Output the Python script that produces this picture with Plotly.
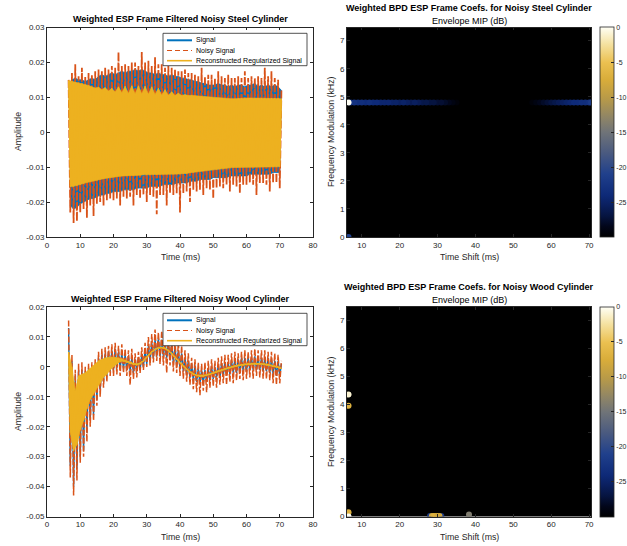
import numpy as np
import plotly.graph_objects as go

W, H = 627, 546

# ---------------- data (amplitudes in units of 1e-3) ----------------
# oscillation peaks sampled at t_peak, troughs at t_trough (ms)
t_peak = np.arange(6.5, 71.0, 1.0)      # 65 samples
t_trough = np.arange(7.0, 70.5, 1.0)    # 64 samples

steel_sig_up = [14, 15, 15.5, 15, 15, 14.5, 15, 15.5, 15, 16, 16.5, 16, 16.5, 17, 16.5, 17,
                17.5, 17, 17.5, 17.5, 18, 17.5, 18, 17.5, 17, 17, 16.5, 17, 16.5, 16.5, 16, 16.5,
                16, 16, 15.5, 15.5, 15, 15, 14.5, 14.5, 14, 14, 13.5, 13.5, 13.5, 14, 13.5, 13.5,
                13, 13.5, 13, 13.5, 13.5, 13, 13.5, 13.5, 14, 13, 13.5, 13, 13.5, 13, 13.5, 13, 12]
steel_sig_lo = [-21, -22, -21.5, -20.5, -20, -19.5, -19, -19, -18.5, -18, -18, -17.5, -17.5, -17,
                -17, -17, -16.5, -16.5, -16.5, -16.5, -16, -16, -16, -16, -15.5, -15.5, -15.5, -15.5,
                -15, -15, -15, -15, -14.5, -14.5, -14.5, -14.5, -14, -14, -14, -13.5, -13.5, -13.5,
                -13.5, -13, -13, -13, -13, -13, -12.5, -12.5, -12.5, -12.5, -12.5, -12.5, -12, -12,
                -12, -12, -12, -12, -12, -11.5, -11.5, -11.5]
steel_noisy_up = [15, 17, 19.5, 16, 18.5, 16, 17, 16.5, 17.5, 18, 17.5, 18.5, 18, 19, 18.5, 23,
                  19, 19.5, 19, 20, 20, 19, 23, 20, 20.5, 19, 21.5, 19.5, 19.5, 18.5, 19, 18.5,
                  18, 17.5, 17.5, 18, 17, 17, 16.5, 16, 18.5, 16, 16.5, 16.5, 15.5, 17.5, 16, 15.5,
                  16.5, 15.5, 15.5, 16, 15.5, 17.5, 15.5, 16, 15.5, 16, 15.5, 18.5, 16, 17.5, 15.5, 15, 12]
steel_noisy_lo = [-23, -26, -25.5, -23, -22, -24.5, -21, -24, -20.5, -20, -21, -19.5, -19, -19.5,
                  -19, -21, -18.5, -19, -18.5, -21, -18, -19, -18, -20, -18, -18.5, -23.5, -18,
                  -18, -21, -17.5, -18, -17.5, -23, -17.5, -17, -20, -16.5, -17, -16.5, -18, -16,
                  -16.5, -19, -16, -15.5, -16, -15, -17, -15, -15.5, -17.5, -15, -15, -14.5, -15,
                  -18, -14.5, -14.5, -15, -17, -14.5, -14.5, -16]
steel_rec_up = [14.8, 14.6, 14.4, 14.2, 14, 13.7, 13.4, 13, 12.7, 12.9, 12.2, 12.8, 11.8, 12.6, 11.5,
                13, 11.3, 13.2, 11.1, 13.3, 11, 13.3, 11, 13.2, 10.9, 13, 10.8, 12.6, 10.7, 12.2, 10.6,
                11.6, 10.5, 11.2, 10.5, 10.8, 10.5, 10.6, 10.4, 10.4, 10.3, 10.2, 10.1, 10, 9.9, 9.8,
                9.7, 9.7, 9.6, 9.6, 9.6, 9.7, 9.7, 9.8, 9.8, 9.8, 9.8, 9.8, 9.8, 9.8, 9.8, 9.8, 9.8,
                9.8, 9.6]
steel_rec_lo = [-15.6, -15.5, -15.3, -15, -14.7, -14.4, -14.2, -14, -13.8, -13.5, -13.3, -13.1, -12.9,
                -12.8, -12.7, -12.6, -12.5, -12.5, -12.4, -12.4, -12.3, -12.3, -12.2, -12.2, -12.2,
                -12.1, -12.1, -12.1, -12, -12, -12, -12, -12, -12, -11.9, -11.8, -11.6, -11.5, -11.3,
                -11.2, -11, -10.9, -10.8, -10.7, -10.6, -10.5, -10.4, -10.3, -10.2, -10.1, -10, -10,
                -9.9, -9.9, -9.9, -9.9, -9.9, -9.9, -9.9, -9.9, -9.9, -9.9, -9.9, -9.9]

wood_sig_up = [13, 2, -3, -1, -1, -1.5, -0.5, 0, 1, 3, 4, 4.5, 5, 5.5, 6, 5, 4.5, 4, 3.5, 3, 2.5, 3,
               4, 5.5, 7, 8, 9, 9.5, 9, 8.5, 8, 7.5, 6.5, 5.5, 4.5, 3, 2, 1, 0.5, -0.5, -1, -1, -0.5,
               0, 0, 0.5, 1, 1.5, 1.5, 2, 2.5, 2.5, 3, 3, 3, 3, 3.5, 3, 3, 3, 3, 2.5, 2, 2, 1]
wood_sig_lo = [-33, -40, -34, -30, -28, -22, -18, -16, -11, -8, -5, -3, -1.5, -1, -0.5, -0.5, -0.5,
               -1, -1.5, -2, -1.5, -1, 0, 1, 2, 3, 3.5, 3.5, 3.5, 3, 2.5, 1.5, 0.5, -0.5, -1.5, -2.5,
               -3.5, -4.5, -5, -5.5, -5.5, -5, -4.5, -4, -3.5, -3.5, -3, -2.5, -2.5, -2, -2, -2, -1.5,
               -1.5, -1, -1, -1, -1, -1.5, -1.5, -2, -2.5, -3, -3]
wood_noisy_up = [15.5, 4, -1, 1, 1.5, 0, 1, 1.5, 2.5, 5, 6, 6.5, 7, 7.5, 8, 7, 7.5, 6, 5.5, 6, 4.5,
                 5, 6.5, 8, 10, 11, 12.5, 11.5, 12, 11, 10.5, 10, 9, 8, 7, 5.5, 4.5, 3, 2.5, 1.5, 1,
                 1.5, 2, 2.5, 2, 3, 3.5, 4, 4, 4.5, 5, 4.5, 5, 5.5, 5, 5.5, 6, 5.5, 5.5, 5.5, 5, 5,
                 4.5, 4, 2]
wood_noisy_lo = [-37, -43, -38, -32, -30, -25, -20, -18, -13, -10, -7, -5, -3, -3, -2.5, -3, -2, -3,
                 -6, -4, -3.5, -2, -1, 0, 0.5, 1.5, 2, 1, 0.5, -2, 0.5, -1.5, -2, -3, -4, -5, -6,
                 -7.5, -8.5, -9.5, -8, -8.5, -7, -6.5, -7, -6, -5.5, -6, -5, -5.5, -4.5, -4, -4.5,
                 -4, -3.5, -4, -3, -3.5, -4, -4, -4.5, -5.5, -6, -5.5]
wood_rec_up = [5, 0, -8, -3, -2.5, -2, -1, 0, 1, 2, 2.5, 3, 3.2, 3.3,
               3.2, 3.0, 2.6, 2.2, 1.7, 1.3, 1.0, 1.1, 1.7, 2.8,
               4.0, 5.1, 6.0, 6.5, 6.6, 6.3, 5.6, 4.6, 3.4, 2.2,
               1.0, -0.1, -1.1, -1.9, -2.5, -2.8, -2.9, -2.75, -2.45, -2.1,
               -1.7, -1.3, -0.9, -0.5, -0.2, 0.1, 0.4, 0.6, 0.8, 0.95,
               1.05, 1.15, 1.2, 1.2, 1.1, 1.0, 0.8, 0.6, 0.3, 0.0, -0.4]
wood_rec_lo = [-22, -28, -26, -21, -18, -14, -11, -9, -7, -5.5, -3.5, -2.5, -1, 0,
               1.0, 1.8, 1.9, 1.5, 1.1, 0.75, 0.65, 1.0, 1.9, 3.1,
               4.3, 5.3, 6.0, 6.3, 6.2, 5.7, 4.8, 3.7, 2.5, 1.3,
               0.1, -0.9, -1.8, -2.5, -3.0, -3.2, -3.15, -2.9, -2.6, -2.2,
               -1.8, -1.4, -1.0, -0.65, -0.35, -0.05, 0.2, 0.4, 0.6, 0.7,
               0.8, 0.9, 0.9, 0.85, 0.75, 0.6, 0.4, 0.15, -0.1, -0.5]

# BPD coefficient maps: (time shift ms, frequency modulation kHz, envelope dB)
steel_line_t = np.arange(7.0, 70.5, 1.0)   # 64 samples
steel_line_f = 4.8
steel_line_db = [-22.5, -23, -23.5, -23.5, -24, -23.5, -24, -24, -24.5, -24.5,
                 -24.5, -25, -25, -25.5, -25, -25.5, -26, -25.5, -26, -26.5,
                 -26.5, -27, -27, -27.5, -27.5, -28, -28.5, -29, -29.5, -30,
                 -30, -30, -30, -30, -30, -30, -30, -30, -30, -30,
                 -30, -30, -30, -30, -30, -30, -30, -30, -29.5, -29,
                 -28.5, -28, -27.5, -27, -26.5, -26, -25.5, -25, -24.5, -24,
                 -24, -23.5, -23.5, -23]
steel_pts_t = [6.5, 70.5, 6.5]
steel_pts_f = [4.8, 4.8, 0.0]
steel_pts_db = [0, -22, -21]

wood_pts_t = [28.0, 31.0, 38.3, 28.5, 29.0, 29.5, 30.0, 30.5, 6.5, 6.5, 6.5, 6.5]
wood_pts_f = [0.02, 0.02, 0.07, 0.02, 0.02, 0.02, 0.02, 0.02, 3.95, 0.15, 4.35, 0.0]
wood_pts_db = [-22, -22, -14, -8, -7, -7, -8, -8, -7, -7, -1, 0]

legend_names = ["Signal", "Noisy Signal", "Reconstructed Regularized Signal"]

# ---------------- helpers ----------------
def zig(up, low):
    xs, ys = [], []
    for i in range(len(low)):
        xs += [t_peak[i], t_trough[i]]
        ys += [up[i], low[i]]
    xs.append(t_peak[len(low)])
    ys.append(up[len(low)])
    return xs, np.array(ys) * 1e-3

def band(up, low):
    xs = list(t_peak[:len(up)]) + list(t_trough[:len(low)][::-1])
    ys = list(up) + list(low[::-1])
    return xs, np.array(ys) * 1e-3

def dx(px):
    return px / W

def dy(py):
    return 1 - py / H

BLUE, ORANGE, YELLOW = "#0072BD", "#D95319", "#EDB120"
FONT = "Liberation Sans, Arial, Helvetica, sans-serif"
AXC = "#262626"

cscale = [[0.0, "#000000"], [0.05, "#02061a"], [0.1, "#061440"], [0.15, "#0a1f5e"], [0.2, "#0e2a78"],
          [0.3, "#20408c"], [0.4, "#4a5a80"], [0.5, "#707478"], [0.57, "#8f8566"], [0.66, "#b89a48"],
          [0.75, "#d9ad3a"], [0.83, "#ebc050"], [0.92, "#f5e2a2"], [1.0, "#fffff5"]]

fig = go.Figure()

# ---------------- left panels ----------------
# steel: signal band underneath, noisy oscillation drawn over it
x, y = band(steel_sig_up, steel_sig_lo)
fig.add_trace(go.Scatter(x=x, y=y, mode="lines", fill="toself", fillcolor=BLUE,
                         line=dict(color=BLUE, width=0.8), xaxis="x", yaxis="y", showlegend=False))
x, y = zig(steel_noisy_up, steel_noisy_lo)
fig.add_trace(go.Scatter(x=x, y=y, mode="lines", line=dict(color=ORANGE, width=1.8, dash="8px,2px"),
                         xaxis="x", yaxis="y", showlegend=False))
x, y = band(steel_rec_up, steel_rec_lo)
fig.add_trace(go.Scatter(x=x, y=y, mode="lines", fill="toself", fillcolor=YELLOW,
                         line=dict(color=YELLOW, width=0.6), xaxis="x", yaxis="y", showlegend=False))
x, y = zig(steel_rec_up, steel_rec_lo)
fig.add_trace(go.Scatter(x=x, y=y, mode="lines", line=dict(color=YELLOW, width=1.2),
                         xaxis="x", yaxis="y", showlegend=False))

# wood: dense oscillations drawn as lines only
x, y = zig(wood_sig_up, wood_sig_lo)
fig.add_trace(go.Scatter(x=x, y=y, mode="lines", line=dict(color=BLUE, width=1.4),
                         xaxis="x3", yaxis="y3", showlegend=False))
x, y = zig(wood_noisy_up, wood_noisy_lo)
fig.add_trace(go.Scatter(x=x, y=y, mode="lines", line=dict(color=ORANGE, width=1.5, dash="6px,2px"),
                         xaxis="x3", yaxis="y3", showlegend=False))
x, y = band(wood_rec_up, wood_rec_lo)
fig.add_trace(go.Scatter(x=x, y=y, mode="lines", fill="toself", fillcolor=YELLOW,
                         line=dict(color=YELLOW, width=0.6), xaxis="x3", yaxis="y3", showlegend=False))
x, y = zig(wood_rec_up, wood_rec_lo)
fig.add_trace(go.Scatter(x=x, y=y, mode="lines", line=dict(color=YELLOW, width=1.2),
                         xaxis="x3", yaxis="y3", showlegend=False))

# ---------------- right panels ----------------
pts = list(zip(steel_line_t, [steel_line_f] * len(steel_line_t), steel_line_db))
pts += list(zip(steel_pts_t, steel_pts_f, steel_pts_db))
pts.sort(key=lambda p: p[2])
fig.add_trace(go.Scatter(x=[p[0] for p in pts], y=[p[1] for p in pts], mode="markers",
                         marker=dict(size=6, color=[p[2] for p in pts], coloraxis="coloraxis",
                                     line=dict(width=0)),
                         xaxis="x2", yaxis="y2", showlegend=False))
fig.add_trace(go.Scatter(x=wood_pts_t, y=wood_pts_f, mode="markers",
                         marker=dict(size=6, color=wood_pts_db, coloraxis="coloraxis2",
                                     line=dict(width=0)),
                         xaxis="x4", yaxis="y4", showlegend=False))

TOP = (27.5, 237)
BOT = (307, 516.5)
LX = (47, 313)
RX = (347, 591)

tick_font = dict(family=FONT, size=8, color=AXC)
common = dict(showline=True, linecolor=AXC, linewidth=0.8, mirror="ticks", ticks="inside",
              ticklen=3, tickcolor=AXC, tickfont=tick_font, showgrid=False, zeroline=False)

def ytxt(vals):
    return [("%g" % v) for v in vals]

yv_top = [-0.03, -0.02, -0.01, 0, 0.01, 0.02, 0.03]
yv_bot = [-0.05, -0.04, -0.03, -0.02, -0.01, 0, 0.01, 0.02]
xv_left = [0, 10, 20, 30, 40, 50, 60, 70, 80]
xv_right = [10, 20, 30, 40, 50, 60, 70]
yv_right = [0, 1, 2, 3, 4, 5, 6, 7]

fig.update_layout(
    width=W, height=H, margin=dict(l=0, r=0, t=0, b=0, autoexpand=False),
    paper_bgcolor="white", plot_bgcolor="white", showlegend=False,
    xaxis=dict(domain=[dx(LX[0]), dx(LX[1])], range=[0, 80], tickvals=xv_left, anchor="y", **common),
    yaxis=dict(domain=[dy(TOP[1]), dy(TOP[0])], range=[-0.03, 0.03], tickvals=yv_top,
               ticktext=ytxt(yv_top), anchor="x", **common),
    xaxis2=dict(domain=[dx(RX[0]), dx(RX[1])], range=[6.1, 70.5], tickvals=xv_right, anchor="y2", **common),
    yaxis2=dict(domain=[dy(TOP[1]), dy(TOP[0])], range=[0, 7.47], tickvals=yv_right, anchor="x2", **common),
    xaxis3=dict(domain=[dx(LX[0]), dx(LX[1])], range=[0, 80], tickvals=xv_left, anchor="y3", **common),
    yaxis3=dict(domain=[dy(BOT[1]), dy(BOT[0])], range=[-0.05, 0.02], tickvals=yv_bot,
                ticktext=ytxt(yv_bot), anchor="x3", **common),
    xaxis4=dict(domain=[dx(RX[0]), dx(RX[1])], range=[6.1, 70.5], tickvals=xv_right, anchor="y4", **common),
    yaxis4=dict(domain=[dy(BOT[1]), dy(BOT[0])], range=[0, 7.47], tickvals=yv_right, anchor="x4", **common),
)

cb_vals = [0, -5, -10, -15, -20, -25]
def cbar(top, bot):
    return dict(x=dx(600), xanchor="left", xpad=0, ypad=0,
                y=dy((top + bot) / 2), yanchor="middle", len=(bot - top) / H, lenmode="fraction",
                thickness=14, thicknessmode="pixels", outlinecolor=AXC, outlinewidth=0.8,
                ticks="inside", ticklen=3, tickcolor=AXC, tickvals=cb_vals,
                ticktext=[str(v) for v in cb_vals], tickfont=dict(family=FONT, size=7, color=AXC))

fig.update_layout(
    coloraxis=dict(colorscale=cscale, cmin=-30, cmax=0, colorbar=cbar(*TOP)),
    coloraxis2=dict(colorscale=cscale, cmin=-30, cmax=0, colorbar=cbar(*BOT)),
)

# black image backgrounds
for xr, yr in [("x2", "y2"), ("x4", "y4")]:
    fig.add_shape(type="rect", xref=xr + " domain", yref=yr + " domain", x0=0, x1=1, y0=0, y1=1,
                  fillcolor="black", line=dict(width=0), layer="below")

# hand-drawn legends (MATLAB style, compact)
for top in (33.3, 313.3):
    fig.add_shape(type="rect", xref="paper", yref="paper", x0=dx(163), x1=dx(307), y0=dy(top + 32.4),
                  y1=dy(top), fillcolor="white", line=dict(color=AXC, width=0.8), layer="above")
    styles = [dict(color=BLUE, width=2), dict(color=ORANGE, width=1, dash="5px,3px"),
              dict(color=YELLOW, width=1.6)]
    for k, (name, st) in enumerate(zip(legend_names, styles)):
        yy = top + 7 + 10.2 * k
        fig.add_shape(type="line", xref="paper", yref="paper", x0=dx(167), x1=dx(192), y0=dy(yy), y1=dy(yy),
                      line=st, layer="above")
        fig.add_annotation(text=name, x=dx(193.5), y=dy(yy), xref="paper", yref="paper", showarrow=False,
                           xanchor="left", yanchor="middle", font=dict(family=FONT, size=7, color="#000"))

def ann(text, x, y, size=9, bold=False, angle=0, color="#000"):
    fig.add_annotation(text=("<b>%s</b>" % text) if bold else text, x=dx(x), y=dy(y), xref="paper",
                       yref="paper", showarrow=False, xanchor="center", yanchor="middle", textangle=angle,
                       font=dict(family=FONT, size=size, color=color))

ann("Weighted ESP Frame Filtered Noisy Steel Cylinder", 180, 19, bold=True)
ann("Weighted ESP Frame Filtered Noisy Wood Cylinder", 180, 299, bold=True)
ann("Weighted BPD ESP Frame Coefs. for Noisy Steel Cylinder", 469, 8, bold=True)
ann("Envelope MIP (dB)", 469, 21)
ann("Weighted BPD ESP Frame Coefs. for Noisy Wood Cylinder", 469, 287, bold=True)
ann("Envelope MIP (dB)", 469, 300)
ann("Time (ms)", 180, 257, size=8.8, color=AXC)
ann("Time (ms)", 180, 537, size=8.8, color=AXC)
ann("Time Shift (ms)", 469, 257, size=8.8, color=AXC)
ann("Time Shift (ms)", 469, 537, size=8.8, color=AXC)
ann("Amplitude", 18, 132, size=8.8, angle=-90, color=AXC)
ann("Amplitude", 18, 412, size=8.8, angle=-90, color=AXC)
ann("Frequency Modulation (kHz)", 331, 132, size=8.8, angle=-90, color=AXC)
ann("Frequency Modulation (kHz)", 331, 412, size=8.8, angle=-90, color=AXC)

fig.write_html("out.html")
